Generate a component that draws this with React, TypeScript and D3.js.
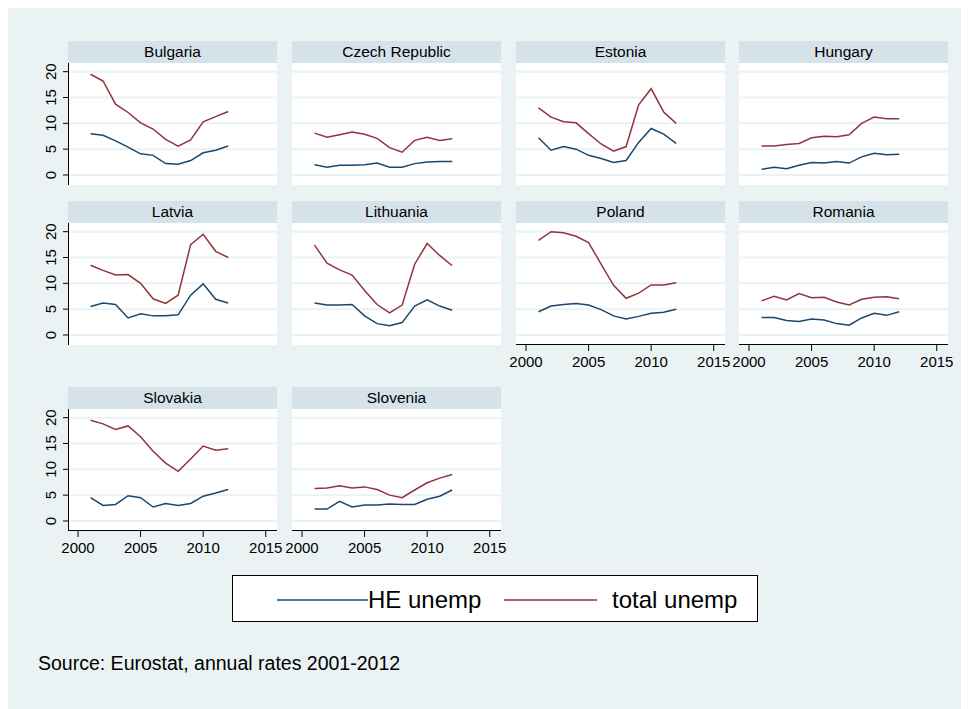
import React from "react";
import * as d3 from "d3";

const years = [2001, 2002, 2003, 2004, 2005, 2006, 2007, 2008, 2009, 2010, 2011, 2012];

const countries = [
  "Bulgaria", "Czech Republic", "Estonia", "Hungary",
  "Latvia", "Lithuania", "Poland", "Romania",
  "Slovakia", "Slovenia",
];

const heUnemp: number[][] = [
  [8.0, 7.7, 6.6, 5.4, 4.1, 3.8, 2.2, 2.1, 2.8, 4.3, 4.8, 5.6],
  [2.0, 1.5, 1.9, 1.9, 2.0, 2.3, 1.5, 1.5, 2.2, 2.5, 2.6, 2.6],
  [7.2, 4.8, 5.5, 5.0, 3.8, 3.2, 2.4, 2.8, 6.3, 9.0, 7.9, 6.1],
  [1.1, 1.5, 1.2, 1.9, 2.4, 2.3, 2.6, 2.3, 3.5, 4.2, 3.9, 4.0],
  [5.5, 6.2, 5.9, 3.3, 4.1, 3.7, 3.7, 3.9, 7.7, 9.9, 6.9, 6.2],
  [6.2, 5.8, 5.8, 5.9, 3.7, 2.2, 1.8, 2.4, 5.6, 6.8, 5.6, 4.8],
  [4.5, 5.6, 5.9, 6.1, 5.8, 4.9, 3.7, 3.1, 3.6, 4.2, 4.4, 5.0],
  [3.4, 3.4, 2.8, 2.6, 3.1, 2.9, 2.2, 1.9, 3.3, 4.2, 3.8, 4.5],
  [4.5, 3.0, 3.2, 4.9, 4.5, 2.7, 3.4, 3.0, 3.4, 4.8, 5.4, 6.1],
  [2.3, 2.3, 3.8, 2.7, 3.1, 3.1, 3.3, 3.2, 3.2, 4.2, 4.8, 6.0],
];

const totalUnemp: number[][] = [
  [19.5, 18.2, 13.7, 12.1, 10.1, 8.9, 6.9, 5.6, 6.8, 10.3, 11.3, 12.3],
  [8.1, 7.3, 7.8, 8.3, 7.9, 7.1, 5.3, 4.4, 6.7, 7.3, 6.7, 7.0],
  [13.0, 11.2, 10.3, 10.1, 8.0, 6.0, 4.6, 5.5, 13.6, 16.7, 12.2, 10.0],
  [5.6, 5.6, 5.9, 6.1, 7.2, 7.5, 7.4, 7.8, 10.0, 11.2, 10.9, 10.9],
  [13.5, 12.5, 11.6, 11.7, 10.0, 7.0, 6.1, 7.7, 17.5, 19.5, 16.2, 15.0],
  [17.4, 13.9, 12.6, 11.6, 8.6, 5.9, 4.3, 5.8, 13.7, 17.7, 15.4, 13.4],
  [18.3, 20.0, 19.8, 19.1, 17.9, 13.7, 9.6, 7.1, 8.1, 9.7, 9.7, 10.1],
  [6.6, 7.5, 6.8, 8.0, 7.2, 7.3, 6.4, 5.8, 6.9, 7.3, 7.4, 7.0],
  [19.5, 18.8, 17.7, 18.4, 16.3, 13.5, 11.2, 9.6, 12.0, 14.5, 13.7, 14.0],
  [6.3, 6.4, 6.8, 6.4, 6.6, 6.1, 5.0, 4.5, 6.0, 7.4, 8.3, 9.0],
];

const yTicks = [0, 5, 10, 15, 20];
const xTicks = [2000, 2005, 2010, 2015];
const legendLabels = ["HE unemp", "total unemp"];
const sourceNote = "Source: Eurostat, annual rates 2001-2012";

const W = 961;
const H = 701;
const FONT = "'Liberation Sans', Arial, Helvetica, sans-serif";
const BG = "#eaf2f3";
const STRIP = "#d6e2e9";
const NAVY = "#1a476f";
const MAROON = "#90353b";

// panel layout (page coords minus the 8px body margin)
const colLeft = [60, 284, 508, 731];
const rowTop = [33, 193, 379];
const panelW = 209;
const stripH = 22;
const plotH = 122;

const x = d3.scaleLinear().domain([1999.2, 2015.9]).range([0, panelW]);
const y = d3.scaleLinear().domain([-1.94, 21.68]).range([plotH, 0]);

const line = d3
  .line<[number, number]>()
  .x((d) => x(d[0]))
  .y((d) => y(d[1]));

// panels that carry an x axis
const withXAxis = new Set(["Poland", "Romania", "Slovakia", "Slovenia"]);

function Panel({ idx }: { idx: number }) {
  const name = countries[idx];
  const col = idx % 4;
  const row = Math.floor(idx / 4);
  const left = colLeft[col];
  const top = rowTop[row];
  const he = years.map((yr, i) => [yr, heUnemp[idx][i]] as [number, number]);
  const tot = years.map((yr, i) => [yr, totalUnemp[idx][i]] as [number, number]);
  return (
    <g transform={`translate(${left},${top})`}>
      <rect x={0} y={0} width={panelW} height={stripH} fill={STRIP} />
      <text
        x={panelW / 2}
        y={16.3}
        textAnchor="middle"
        fontSize={15.5}
        fontFamily={FONT}
        fill="#000"
      >
        {name}
      </text>
      <g transform={`translate(0,${stripH})`}>
        <rect x={0} y={0} width={panelW} height={plotH} fill="#fff" />
        {yTicks.map((t) => (
          <line
            key={t}
            x1={0}
            x2={panelW}
            y1={y(t)}
            y2={y(t)}
            stroke={BG}
            strokeWidth={2}
          />
        ))}
        <path d={line(he) ?? ""} fill="none" stroke={NAVY} strokeWidth={1.5} />
        <path d={line(tot) ?? ""} fill="none" stroke={MAROON} strokeWidth={1.5} />
        {col === 0 && (
          <g>
            <line x1={0.5} x2={0.5} y1={0} y2={plotH} stroke="#000" strokeWidth={1} />
            {yTicks.map((t) => (
              <g key={t} transform={`translate(0,${y(t)})`}>
                <line x1={-5} x2={0} y1={0} y2={0} stroke="#000" strokeWidth={1} />
                <text
                  transform="translate(-12,0) rotate(-90)"
                  textAnchor="middle"
                  fontSize={15}
                  fontFamily={FONT}
                  fill="#000"
                >
                  {t}
                </text>
              </g>
            ))}
          </g>
        )}
        {withXAxis.has(name) && (
          <g transform={`translate(0,${plotH})`}>
            <line x1={0} x2={panelW} y1={-0.5} y2={-0.5} stroke="#000" strokeWidth={1} />
            {xTicks.map((t) => (
              <g key={t} transform={`translate(${x(t)},0)`}>
                <line x1={0} x2={0} y1={0} y2={6} stroke="#000" strokeWidth={1} />
                <text
                  y={21.5}
                  textAnchor="middle"
                  fontSize={15}
                  fontFamily={FONT}
                  fill="#000"
                >
                  {t}
                </text>
              </g>
            ))}
          </g>
        )}
      </g>
    </g>
  );
}

export default function App() {
  return (
    <svg width={W} height={H} style={{ display: "block" }}>
      <rect x={0} y={0} width={W} height={H} fill={BG} />
      {countries.map((_, i) => (
        <Panel key={i} idx={i} />
      ))}
      {/* legend */}
      <g transform="translate(224,567)">
        <rect x={0.5} y={0.5} width={525} height={46} fill="#fff" stroke="#000" strokeWidth={1} />
        <line x1={45} x2={136} y1={25} y2={25} stroke={NAVY} strokeWidth={1.6} />
        <text x={136} y={33} fontSize={24} fontFamily={FONT} fill="#000">
          {legendLabels[0]}
        </text>
        <line x1={272} x2={365} y1={25} y2={25} stroke={MAROON} strokeWidth={1.6} />
        <text x={380} y={33} fontSize={24} fontFamily={FONT} fill="#000">
          {legendLabels[1]}
        </text>
      </g>
      <text x={30} y={662} fontSize={19.5} fontFamily={FONT} fill="#000">
        {sourceNote}
      </text>
    </svg>
  );
}
